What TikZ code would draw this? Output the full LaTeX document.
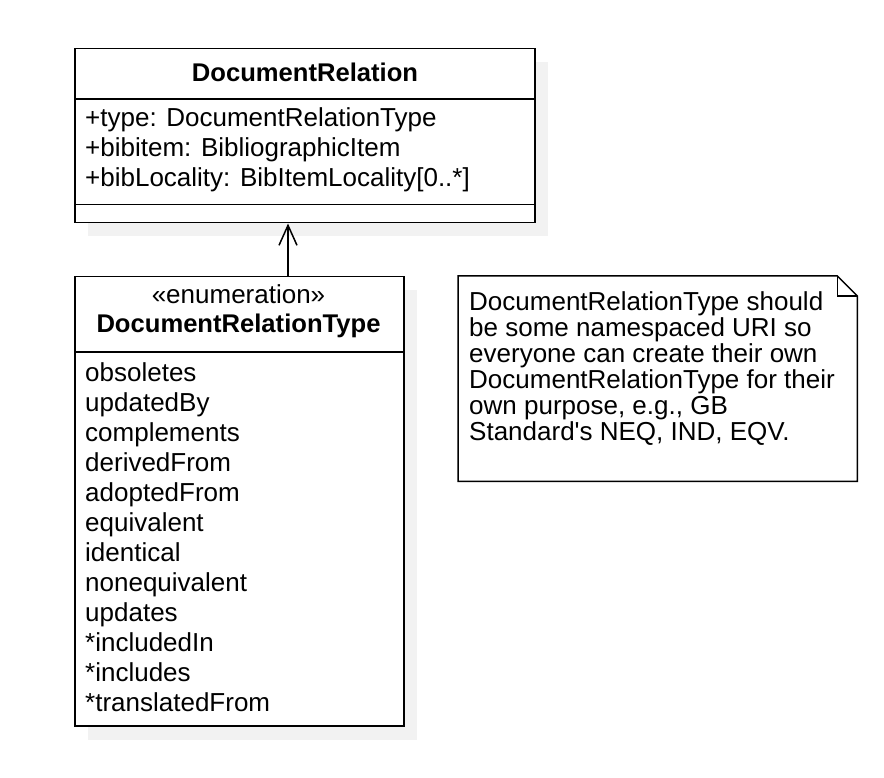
\documentclass[tikz,border=0pt]{standalone}
\usepackage{fontspec}
\setmainfont{Liberation Sans}
\usetikzlibrary{arrows.meta,calc,positioning}
\definecolor{Ink}{HTML}{000000}
\definecolor{Shade}{HTML}{F2F2F2}
\tikzset{
  classbox/.style={
    draw=Ink, line width=1.5pt, fill=white, anchor=north west,
    inner sep=0pt
  },
  shadowbox/.style={fill=Shade, draw=none},
  label/.style={inner sep=0pt, font=\fontsize{26}{30}\selectfont},
  member/.style={label, anchor=base west},
  title/.style={label, anchor=base, font=\fontsize{25.6}{30}\selectfont\bfseries},
  notetext/.style={inner sep=0pt, anchor=base west, font=\fontsize{26}{26}\selectfont},
  realize/.style={-{Straight Barb[length=20pt,width=18pt]}, line width=1.5pt, draw=Ink}
}
\begin{document}
\begin{tikzpicture}[x=1pt,y=-1pt]
    \useasboundingbox (0,0) rectangle (884,778);
    % shadows
    \fill[shadowbox] (88,62) rectangle (548,236);
    \fill[shadowbox] (88,290) rectangle (417,740);
    % DocumentRelation
    \node[classbox, minimum width=460pt, minimum height=174pt] (rel) at (74,48) {};
    \draw[line width=1.5pt] ([yshift=-51pt]rel.north west) -- ([yshift=-51pt]rel.north east);
    \draw[line width=1.5pt] ([yshift=19pt]rel.south west) -- ([yshift=19pt]rel.south east);
    \node[title] (relname) at (305,82) {DocumentRelation};
    \node[member] (attr1) at (85,127) {+type: DocumentRelationType};
    \node[member] (attr2) at (85,157) {+bibitem: BibliographicItem};
    \node[member] (attr3) at (85,187) {+bibLocality: BibItemLocality[0..*]};
    % DocumentRelationType
    \node[classbox, minimum width=329pt, minimum height=449pt] (enum) at (74,276) {};
    \draw[line width=1.5pt] ([yshift=-76pt]enum.north west) -- ([yshift=-76pt]enum.north east);
    \node[label, anchor=base] (stereo) at (238.5,303) {«enumeration»};
    \node[title] (enumname) at (238.5,332) {DocumentRelationType};
    \foreach \lit [count=\i] in {obsoletes,updatedBy,complements,derivedFrom,
      adoptedFrom,equivalent,identical,nonequivalent,updates,
      *includedIn,*includes,*translatedFrom}
      \node[member] (lit\i) at (85,351+30*\i) {\lit};
    \draw[realize] ([xshift=214pt]enum.north west) -- ([xshift=214pt]rel.south west);
    % note
    \node[inner sep=0pt, minimum width=399pt, minimum height=205pt, anchor=north west] (note) at (458,276) {};
    \draw[line width=1.5pt] (note.north west) -- ([xshift=-20pt]note.north east)
      -- ([yshift=-20pt]note.north east) -- (note.south east) -- (note.south west) -- cycle;
    \draw[line width=1.5pt] ([xshift=-20pt]note.north east) -- ([xshift=-20pt,yshift=-20pt]note.north east)
      -- ([yshift=-20pt]note.north east);
    \node[notetext] (n1) at (469,310) {DocumentRelationType should};
    \node[notetext] (n2) at (469,336) {be some namespaced URI so};
    \node[notetext] (n3) at (469,362) {everyone can create their own};
    \node[notetext] (n4) at (469,388) {DocumentRelationType for their};
    \node[notetext] (n5) at (469,414) {own purpose, e.g., GB};
    \node[notetext] (n6) at (469,440) {Standard\textquotesingle s NEQ, IND, EQV.};
  \end{tikzpicture}
\end{document}
